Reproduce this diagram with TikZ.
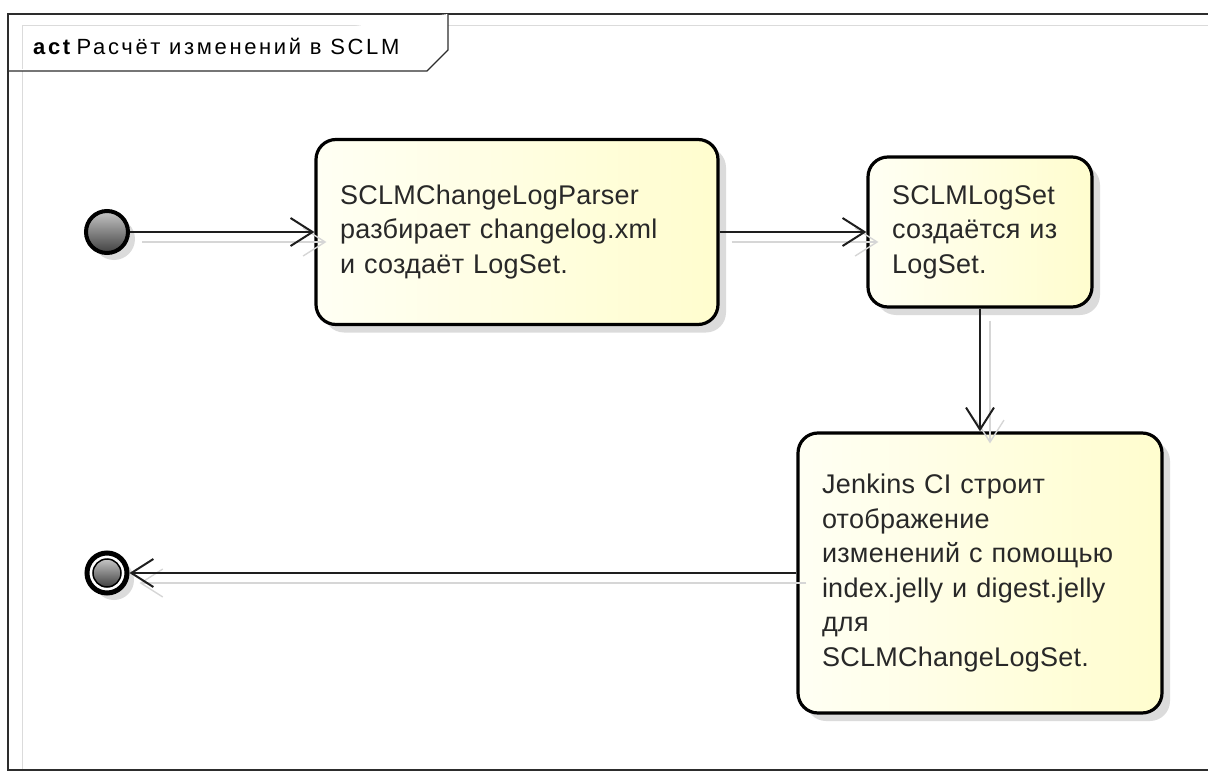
\documentclass[tikz,border=0pt]{standalone}
\usepackage{fontspec}
\setmainfont{Liberation Sans}[LetterSpace=1]
\newfontfamily\headfont{Liberation Sans}[LetterSpace=12]
\usetikzlibrary{arrows.meta,shadows,calc}

\definecolor{ink}{RGB}{30,30,30}
\definecolor{txt}{RGB}{40,40,40}
\definecolor{fillA}{RGB}{255,255,244}
\definecolor{fillB}{RGB}{255,253,206}
\definecolor{framec}{RGB}{45,45,45}

\begin{document}
\begin{tikzpicture}[x=1pt,y=-1pt,
  action/.style={draw=black, line width=3.2pt, rounded corners=20pt,
    left color=fillA, right color=fillB, inner xsep=24pt, inner ysep=0pt,
    align=left, font=\fontsize{27}{34.5}\selectfont, text=txt,
    drop shadow={shadow xshift=8pt, shadow yshift=-8pt, fill=black, opacity=0.14}},
  flow/.style={draw=ink, line width=2pt,
    -{Straight Barb[length=22pt, width=28pt]}},
  ghost/.style={draw=black!16, line width=1.4pt,
    -{Straight Barb[length=22pt, width=28pt]}},
  knob/.style={circle, inner sep=0pt, draw=black,
    top color=gray!45, bottom color=black!75},
]
\useasboundingbox (0,0) rectangle (1208,773);

% diagram frame with its soft inner edge
\draw[black!14, line width=1pt] (22,771) -- (22,26) -- (1215,26);
\draw[framec, line width=1.6pt] (1215,14) -- (8,14) -- (8,770) -- (1215,770);

% name tab
\draw[framec, line width=1.4pt, fill=white] (8,71) -- (427,71) -- (448,50) -- (448,14);
\node[anchor=base west, inner sep=0pt, text=black,
      font=\headfont\fontsize{22}{22}\selectfont] (title) at (33,55)
  {\textbf{act}\,Расчёт изменений в SCLM};

% actions
\node[action, minimum width=402pt, minimum height=185pt, text width=354pt]
  (b1) at (517,232) {SCLMChangeLogParser\\разбирает changelog.xml\\и создаёт LogSet.};
\node[action, minimum width=224pt, minimum height=150pt, text width=176pt]
  (b2) at (980,232) {SCLMLogSet\\создаётся из\\LogSet.};
\node[action, minimum width=364pt, minimum height=280pt, text width=316pt]
  (b3) at (980,573) {Jenkins CI строит\\отображение\\изменений с помощью\\index.jelly и digest.jelly\\для\\SCLMChangeLogSet.};

% initial and final nodes
\node[knob, minimum size=42pt, line width=4pt,
      drop shadow={shadow xshift=7pt, shadow yshift=-7pt, fill=black, opacity=0.14}]
  (start) at (107,232) {};
\node[circle, inner sep=0pt, minimum size=40pt, line width=5pt, draw=black, fill=white,
      drop shadow={shadow xshift=7pt, shadow yshift=-7pt, fill=black, opacity=0.14}]
  (fin) at (107,573) {};
\node[knob, minimum size=28pt, line width=1.5pt] (fincore) at (fin) {};

% shadows of the flows
\draw[ghost] ($(start.east)+(12,10)$) -- ($(b1.west |- start)+(12,10)$);
\draw[ghost] ($(b1.east)+(12,10)$) -- ($(b2.west)+(12,10)$);
\draw[ghost] ($(b2.south)+(10,12)$) -- ($(b3.north)+(10,12)$);
\draw[ghost] ($(b3.west)+(10,10)$) -- ($(fin.east)+(10,10)$);

% control flows
\draw[flow] (start) -- (b1.west |- start);
\draw[flow] (b1) -- (b2);
\draw[flow] (b2) -- (b3);
\draw[flow] (b3) -- (fin);
\end{tikzpicture}
\end{document}
